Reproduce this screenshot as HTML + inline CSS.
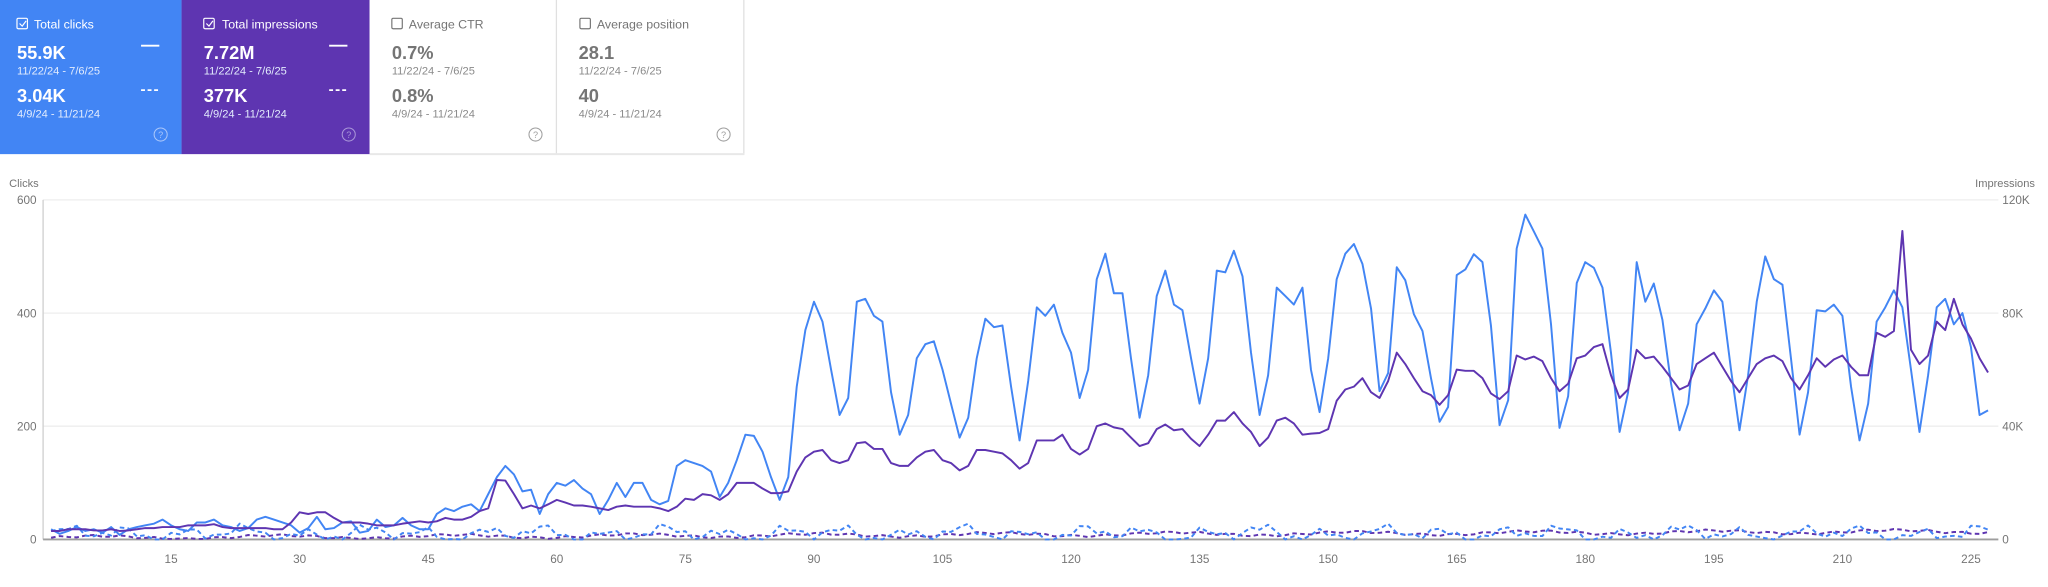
<!DOCTYPE html>
<html><head><meta charset="utf-8"><style>
html,body{margin:0;padding:0;background:#fff;}
svg{display:block;}
text{font-family:"Liberation Sans",sans-serif;}
</style></head><body>
<svg id="s" width="2048" height="587" viewBox="0 0 1568 449.4" preserveAspectRatio="none" xmlns="http://www.w3.org/2000/svg">
<rect x="0" y="0" width="139" height="118" fill="#4285f4"/>
<rect x="139" y="0" width="144" height="118" fill="#5e35b1"/>
<rect x="283" y="0" width="143" height="118" fill="#fff"/>
<rect x="426" y="0" width="144" height="118" fill="#fff"/>
<line x1="426" y1="0" x2="426" y2="118" stroke="#e0e0e0"/>
<line x1="569.5" y1="0" x2="569.5" y2="118" stroke="#e0e0e0"/>
<line x1="283" y1="118" x2="570" y2="118" stroke="#e8e8e8" stroke-width="1.5"/>
<g fill="none" stroke="#fff" stroke-width="0.9">
<rect x="13" y="14" width="8" height="8" rx="1"/><path d="M15 18 l2 2 l3 -4"/>
<rect x="156" y="14" width="8" height="8" rx="1"/><path d="M158 18 l2 2 l3 -4"/>
</g>
<g fill="none" stroke="#757575" stroke-width="0.9">
<rect x="300" y="14" width="8" height="8" rx="1"/>
<rect x="444" y="14" width="8" height="8" rx="1"/>
</g>
<g font-size="9.5" fill="#fff"><text x="26" y="22">Total clicks</text><text x="170" y="22">Total impressions</text></g>
<g font-size="9.5" fill="#757575"><text x="313" y="22">Average CTR</text><text x="457" y="22">Average position</text></g>
<g font-size="14" font-weight="bold" fill="#fff"><text x="13" y="45">55.9K</text><text x="13" y="78">3.04K</text><text x="156" y="45">7.72M</text><text x="156" y="78">377K</text></g>
<g font-size="14" font-weight="bold" fill="#757575"><text x="300" y="45">0.7%</text><text x="300" y="78">0.8%</text><text x="443" y="45">28.1</text><text x="443" y="78">40</text></g>
<g font-size="8.5" fill="#e3ecfd"><text x="13" y="57">11/22/24 - 7/6/25</text><text x="13" y="90">4/9/24 - 11/21/24</text><text x="156" y="57">11/22/24 - 7/6/25</text><text x="156" y="90">4/9/24 - 11/21/24</text></g>
<g font-size="8.5" fill="#8a8a8a"><text x="300" y="57">11/22/24 - 7/6/25</text><text x="300" y="90">4/9/24 - 11/21/24</text><text x="443" y="57">11/22/24 - 7/6/25</text><text x="443" y="90">4/9/24 - 11/21/24</text></g>
<g stroke="#fff" stroke-width="1.4"><line x1="108" y1="35" x2="122" y2="35"/><line x1="108" y1="69" x2="122" y2="69" stroke-dasharray="3,2"/><line x1="252" y1="35" x2="266" y2="35"/><line x1="252" y1="69" x2="266" y2="69" stroke-dasharray="3,2"/></g>
<g fill="none" stroke-width="0.8"><circle cx="123" cy="103" r="5" stroke="#a9c6fa"/><circle cx="267" cy="103" r="5" stroke="#a996d8"/><circle cx="410" cy="103" r="5" stroke="#9e9e9e"/><circle cx="554" cy="103" r="5" stroke="#9e9e9e"/></g>
<g font-size="7" text-anchor="middle"><text x="123" y="105.5" fill="#a9c6fa">?</text><text x="267" y="105.5" fill="#a996d8">?</text><text x="410" y="105.5" fill="#9e9e9e">?</text><text x="554" y="105.5" fill="#9e9e9e">?</text></g>

<g stroke="#eeeeee" stroke-width="1"><line x1="33" y1="153" x2="1530" y2="153"/><line x1="33" y1="239.7" x2="1530" y2="239.7"/><line x1="33" y1="326.3" x2="1530" y2="326.3"/></g>
<line x1="33" y1="153" x2="33" y2="413" stroke="#cfcfcf"/>
<line x1="33" y1="413" x2="1530" y2="413" stroke="#9e9e9e" stroke-width="1.4"/>
<g font-size="8.5" fill="#757575"><text x="7" y="143">Clicks</text><text x="1558" y="143" text-anchor="end">Impressions</text></g>
<g font-size="9" fill="#757575" text-anchor="end"><text x="28" y="156">600</text><text x="28" y="243">400</text><text x="28" y="329.5">200</text><text x="28" y="416">0</text></g>
<g font-size="9" fill="#757575"><text x="1533" y="156">120K</text><text x="1533" y="243">80K</text><text x="1533" y="329.5">40K</text><text x="1533" y="416">0</text></g>
<g id="xt" font-size="9" fill="#757575" text-anchor="middle"></g>
<g id="lines" fill="none" stroke-width="1.5" stroke-linejoin="round"></g>
</svg>
<script>
var B=[18,10,15,22,15,18,12,22,8,18,22,25,28,35,25,18,15,30,30,35,25,22,15,20,35,40,35,30,25,12,20,40,18,20,30,32,12,15,35,22,25,38,25,18,18,45,55,50,58,62,50,80,
110,130,115,85,88,45,80,100,95,105,90,80,45,70,100,75,100,100,70,62,68,130,140,135,130,120,75,100,140,185,183,155,110,70,
110,270,370,420,385,300,220,250,420,425,395,385,260,185,220,320,345,350,300,240,180,215,320,390,375,378,270,175,280,410,395,415,365,330,250,300,460,505,435,435,320,215,290,430,475,415,405,320,240,320,475,472,510,465,330,220,290,445,430,415,445,300,225,320,460,505,
522,487,408,262,294,481,458,398,368,285,208,234,467,477,504,490,378,202,246,514,574,544,514,380,197,253,453,490,480,445,330,190,260,490,420,452,388,275,193,240,380,408,440,420,300,193,290,420,500,460,450,320,185,260,405,403,415,395,270,175,240,385,410,440,410,300,190,290,410,425,380,400,340,220,228];
var P=[15,15,18,18,18,16,16,18,15,16,18,20,20,22,22,22,25,25,25,27,22,20,20,20,20,
20,18,18,30,48,45,48,48,38,30,30,30,28,25,25,25,28,30,32,30,32,38,35,35,40,50,55,
105,104,80,55,60,55,62,70,65,60,60,58,55,52,58,60,58,58,58,55,50,58,72,70,80,78,70,80,100,100,100,90,82,82,
85,120,145,155,158,140,135,140,170,172,160,160,135,130,130,145,155,158,140,135,122,130,158,158,155,152,140,125,135,175,175,175,185,160,150,160,200,205,198,195,180,165,170,195,203,193,195,178,165,185,210,210,225,205,190,165,180,210,215,205,185,187,188,195,245,265,
270,285,260,250,280,330,310,285,262,255,238,255,300,298,298,285,258,248,262,325,318,323,315,285,262,275,320,325,340,345,290,250,265,335,320,323,305,285,265,272,310,320,330,305,280,260,285,310,320,325,315,285,265,290,320,305,318,325,305,290,290,365,358,368,545,335,310,325,385,370,425,380,355,320,295];
function X(i){return 131+(i-15)*6.562;}
function Y(v){return 413-v*260/600;}
function path(a){var d='';for(var i=0;i<a.length;i++){d+=(i?'L':'M')+X(i+1).toFixed(1)+' '+Y(a[i]).toFixed(1);}return d;}
var BD=[],PD=[];
for(var i=0;i<227;i++){
 BD.push(Math.max(0,10+9*Math.sin(i*0.9)+6*Math.sin(i*2.3+1)+5*Math.sin(i*0.37)));
 PD.push(Math.max(1,3+i*0.05+3*Math.sin(i*0.3)+2*Math.sin(i*1.7)));
}
var g=document.getElementById('lines');
function add(d,c,dash){var p=document.createElementNS('http://www.w3.org/2000/svg','path');p.setAttribute('d',d);p.setAttribute('stroke',c);if(dash)p.setAttribute('stroke-dasharray','3.5,2.5');g.appendChild(p);}
add(path(PD),'#5e35b1',1);add(path(BD),'#4285f4',1);
add(path(B),'#4285f4');add(path(P),'#5e35b1');
var xt=document.getElementById('xt');
for(var k=15;k<=225;k+=15){var t=document.createElementNS('http://www.w3.org/2000/svg','text');t.setAttribute('x',X(k));t.setAttribute('y',431);t.textContent=k;xt.appendChild(t);}
</script>
</body></html>
